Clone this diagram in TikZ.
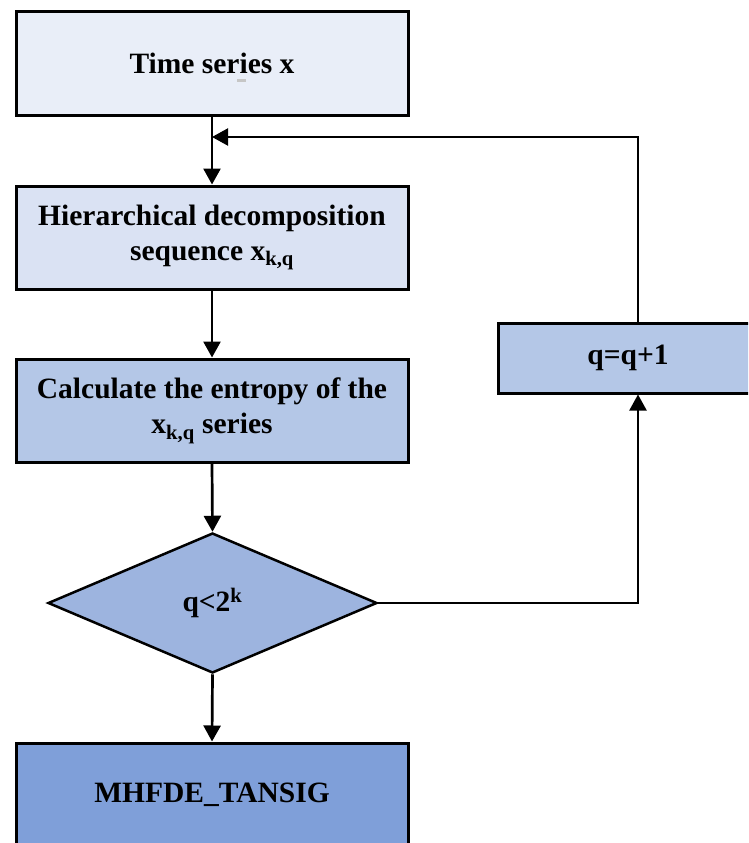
\documentclass[tikz,border=0pt]{standalone}
\usepackage{fontspec}
\setmainfont{Liberation Serif}
\usetikzlibrary{shapes.geometric,arrows.meta}
\definecolor{c1}{HTML}{E9EEF8}
\definecolor{c2}{HTML}{DAE2F3}
\definecolor{c3}{HTML}{B4C7E7}
\definecolor{c4}{HTML}{9DB4DF}
\definecolor{c5}{HTML}{7F9FD9}
\tikzset{
  box/.style={draw=black, line width=3pt, rectangle, minimum width=392pt, minimum height=103pt,
    inner sep=0pt, align=center, font=\fontsize{29.5}{35}\selectfont\bfseries},
  dec/.style={draw=black, line width=2.5pt, diamond, aspect=2.35, minimum width=329pt, minimum height=140pt,
    inner sep=0pt, align=center, font=\fontsize{29.5}{35}\selectfont\bfseries},
  arr/.style={line width=2.7pt, -{Triangle[length=16pt,width=17pt]}},
  arrthin/.style={line width=2.2pt, -{Triangle[length=16pt,width=17pt]}}
}
\begin{document}
\begin{tikzpicture}[x=1pt,y=-1pt]
\useasboundingbox (0,0) rectangle (748,843);
\clip (0,0) rectangle (748,843);
\node[box, fill=c1] (b1) at (212,63.5) {Time series x};
\fill[gray!45] (237,79) rectangle (246,81.5);
\node[box, fill=c2] (b2) at (212,237.5) {Hierarchical decomposition\\sequence x\textsubscript{k,q}};
\node[box, fill=c3] (b3) at (212,410.5) {Calculate the entropy of the\\x\textsubscript{k,q} series};
\node[dec, fill=c4] (d) at (212.5,603) {q<2\textsuperscript{k}};
\node[box, fill=c5, minimum height=104pt] (b4) at (212,795) {MHFDE\_TANSIG};
\node[box, fill=c3, minimum width=260pt, minimum height=70pt] (q) at (628,358) {q=q+1};
\coordinate (j) at (212,137);
\draw[arr] (b1.south) -- (b2.north);
\draw[arr] (b2.south) -- (b3.north);
\draw[arr] (b3.south) -- (d.north);
\draw[arr] (d.south) -- (b4.north);
\draw[arrthin] (d.east) -| ([xshift=10pt]q.south);
\draw[arrthin] ([xshift=10pt]q.north) |- (j);
\end{tikzpicture}
\end{document}
